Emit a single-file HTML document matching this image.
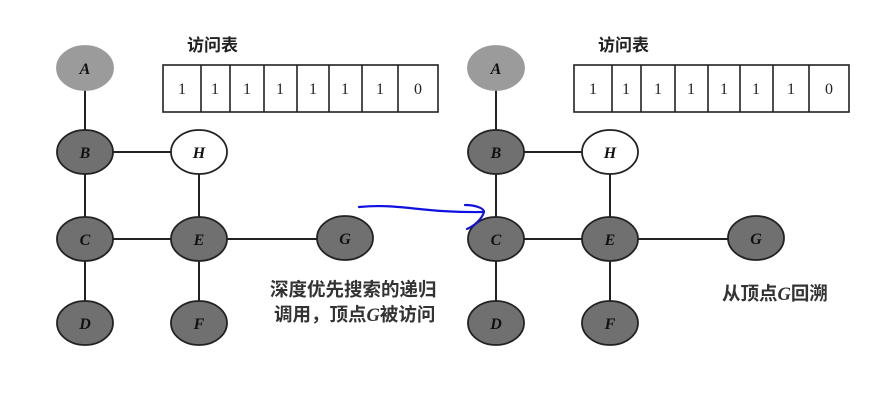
<!DOCTYPE html>
<html><head><meta charset="utf-8"><style>html,body{margin:0;padding:0;background:#fff}svg{display:block}</style></head>
<body>
<svg width="872" height="411" viewBox="0 0 872 411" xmlns="http://www.w3.org/2000/svg">
<defs>
<g id="g">
 <g stroke="#222" stroke-width="2">
  <line x1="85" y1="68" x2="85" y2="323"/>
  <line x1="85" y1="152" x2="199" y2="152"/>
  <line x1="199" y1="152" x2="199" y2="323"/>
  <line x1="85" y1="239" x2="345" y2="239"/>
 </g>
 <g stroke="#222" stroke-width="1.8">
  <ellipse cx="85" cy="68" rx="28" ry="22" fill="#9b9b9b" stroke="#9b9b9b"/>
  <ellipse cx="85" cy="152" rx="28" ry="22" fill="#707070"/>
  <ellipse cx="199" cy="152" rx="28" ry="22" fill="#fff"/>
  <ellipse cx="85" cy="239" rx="28" ry="22" fill="#707070"/>
  <ellipse cx="199" cy="239" rx="28" ry="22" fill="#707070"/>
  <ellipse cx="345" cy="238" rx="28" ry="22" fill="#707070"/>
  <ellipse cx="85" cy="323" rx="28" ry="22" fill="#707070"/>
  <ellipse cx="199" cy="323" rx="28" ry="22" fill="#707070"/>
 </g>
 <g font-family="Liberation Serif, serif" font-style="italic" font-weight="bold" font-size="16" fill="#111" text-anchor="middle">
  <text x="85" y="74">A</text><text x="85" y="158">B</text><text x="199" y="158">H</text>
  <text x="85" y="245">C</text><text x="199" y="245">E</text><text x="345" y="244">G</text>
  <text x="85" y="329">D</text><text x="199" y="329">F</text>
 </g>
 <text x="187" y="51" font-family="Liberation Sans, Noto Sans CJK SC, sans-serif" font-weight="bold" font-size="17" fill="#222">访问表</text>
 <g stroke="#222" stroke-width="1.6" fill="none">
  <rect x="163" y="65" width="275" height="47"/>
  <line x1="201" y1="65" x2="201" y2="112"/><line x1="230" y1="65" x2="230" y2="112"/>
  <line x1="264" y1="65" x2="264" y2="112"/><line x1="297" y1="65" x2="297" y2="112"/>
  <line x1="329" y1="65" x2="329" y2="112"/><line x1="362" y1="65" x2="362" y2="112"/>
  <line x1="398" y1="65" x2="398" y2="112"/>
 </g>
 <g font-family="Liberation Serif, serif" font-size="16" fill="#222" text-anchor="middle">
  <text x="182" y="94">1</text><text x="215" y="94">1</text><text x="247" y="94">1</text>
  <text x="280" y="94">1</text><text x="313" y="94">1</text><text x="345" y="94">1</text>
  <text x="380" y="94">1</text><text x="418" y="94">0</text>
 </g>
</g>
</defs>
<use href="#g"/>
<use href="#g" transform="translate(411,0)"/>
<g font-family="Liberation Sans, Noto Sans CJK SC, sans-serif" font-size="18.5" font-weight="bold" fill="#333">
 <text x="270" y="296">深度优先搜索的递归</text>
 <text x="274" y="321">调用，顶点<tspan font-family="Liberation Serif, serif" font-style="italic">G</tspan>被访问</text>
 <text x="722" y="300">从顶点<tspan font-family="Liberation Serif, serif" font-style="italic">G</tspan>回溯</text>
</g>
<g stroke="#1010e0" stroke-width="2.2" fill="none" stroke-linecap="round">
 <path d="M359 207 C400 203,420 213,484 212"/>
 <path d="M465 205 C475 205,484 208,484 212 C482 219,474 226,467 229"/>
</g>
</svg>
</body></html>
